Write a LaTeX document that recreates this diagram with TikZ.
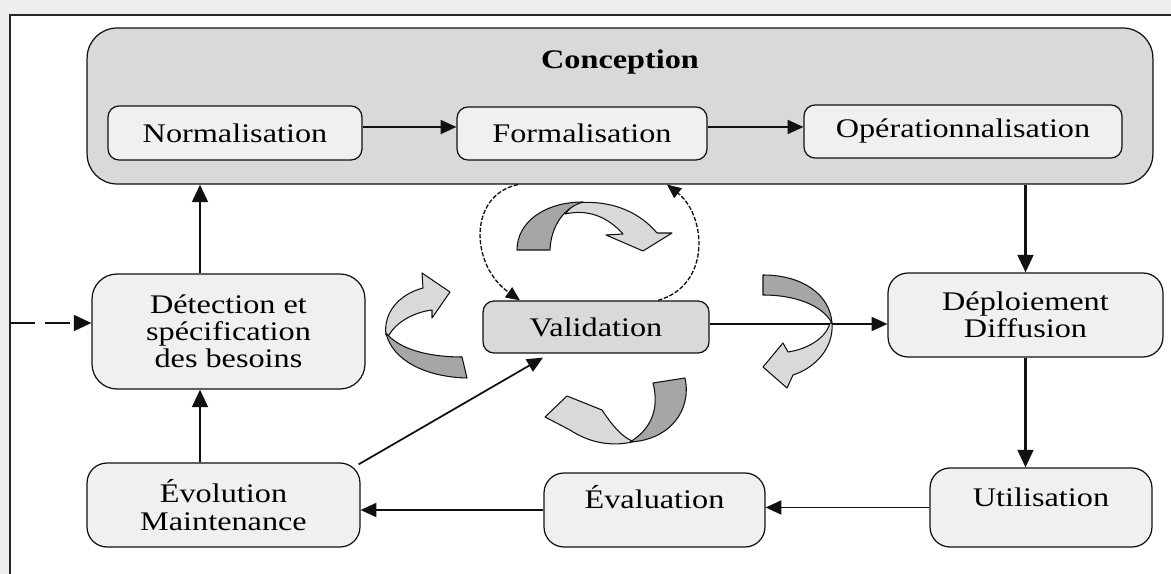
\documentclass[tikz,border=0pt]{standalone}
\usepackage{fontspec}
\setmainfont{Liberation Serif}[FakeStretch=1.2]
\usetikzlibrary{arrows.meta,calc}
\definecolor{boxlight}{HTML}{F0F0F0}
\definecolor{boxdark}{HTML}{D9D9D9}
\definecolor{ribdarkc}{HTML}{A6A6A6}
\definecolor{riblightc}{HTML}{D9D9D9}
\definecolor{pagegray}{HTML}{EEEEEE}
\definecolor{linec}{HTML}{111111}
\begin{document}
\begin{tikzpicture}[x=0.02cm,y=-0.02cm,
  every node/.style={font=\fontsize{15.3}{15.5}\selectfont},
  box/.style={draw=linec,line width=0.7pt,fill=boxlight,align=center,inner sep=0pt,rounded corners=0.22cm},
  topbox/.style={box,text height=11pt,text depth=12.3pt},
  arr/.style={-{Triangle[length=10pt,width=9pt]},line width=1.4pt,draw=linec},
  thinarr/.style={-{Triangle[length=9pt,width=8pt]},line width=1.0pt,draw=linec},
  loopline/.style={-{Triangle[length=8pt,width=7pt]},line width=0.75pt,draw=linec,dash pattern=on 2.5pt off 1pt},
  entryarr/.style={-{Triangle[length=10pt,width=9pt]},line width=1.3pt,draw=linec,dash pattern=on 14pt off 6pt},
  ribdark/.style={fill=ribdarkc,draw=linec,line width=0.6pt,line join=round},
  riblight/.style={fill=riblightc,draw=linec,line width=0.6pt,line join=round}]
\useasboundingbox (0,0) rectangle (1171,574);
% page and frame
\fill[pagegray] (0,0) rectangle (1171,574);
\fill[white] (10,15) rectangle (1171,574);
\draw[line width=1.2pt,draw=black!85] (10,574) -- (10,15) -- (1171,15);

% Conception group
\node[box,fill=boxdark,minimum width=21.32cm,minimum height=3.12cm,rounded corners=0.6cm] (conc) at (620,106) {};
\node[font=\fontsize{15.3}{15.5}\selectfont\bfseries] (conctitle) at (620,62) {Conception};
\node[box,minimum width=5.08cm,minimum height=1.08cm] (norm) at (235,133) {Normalisation};
\node[box,minimum width=5.0cm,minimum height=1.06cm] (form) at (582,133.5) {Formalisation};
\node[box,minimum width=6.36cm,minimum height=1.06cm] (oper) at (963,131.5) {Opérationnalisation};

% Other boxes
\node[box,minimum width=5.46cm,minimum height=2.3cm,rounded corners=0.5cm] (detect) at (228.5,331.5) {Détection et\\spécification\\des besoins};
\node[box,fill=boxdark,minimum width=4.52cm,minimum height=1.04cm] (valid) at (596,327) {Validation};
\node[box,minimum width=5.5cm,minimum height=1.68cm,rounded corners=0.4cm] (deploy) at (1025.5,315) {Déploiement\\Diffusion};
\node[topbox,minimum width=4.44cm,minimum height=1.58cm,rounded corners=0.4cm] (util) at (1041,507.5) {Utilisation};
\node[topbox,minimum width=4.42cm,minimum height=1.48cm,rounded corners=0.4cm] (eval) at (654.5,510) {Évaluation};
\node[box,minimum width=5.46cm,minimum height=1.68cm,rounded corners=0.4cm] (evol) at (223.5,505) {Évolution\\Maintenance};

% helper coordinates
\coordinate (colx) at (200,0);
\coordinate (entry) at (10,323);

% connectors
\draw[thinarr] ($(norm.east)+(0,-6)$) -- ($(form.west)+(0,-6.5)$);
\draw[thinarr] ($(form.east)+(0,-6.5)$) -- ($(oper.west)+(0,-4.5)$);
\draw[arr] (deploy.north |- conc.south) -- (deploy.north);
\draw[arr] (deploy.south) -- (deploy.south |- util.north);
\draw[thinarr] (util.west) -- (eval.east |- util.west);
\draw[thinarr] (eval.west) -- (evol.east |- eval.west);
\draw[arr] (evol.north -| colx) -- (detect.south -| colx);
\draw[arr] (detect.north -| colx) -- (conc.south -| colx);
\draw[entryarr] (entry) -- (entry -| detect.west);
\draw[thinarr] ($(valid.east)+(0,-3)$) -- ($(deploy.west |- valid.east)+(0,-3)$);
\draw[thinarr] ($(evol.north east)+(-2,2)$) -- ($(valid.south)+(-53,4)$);

% dashed loop between Conception and Validation
\draw[loopline] ($(conc.south)+(-102,0)$) .. controls (468,195) and (470,265) .. ($(valid.north)+(-76,0)$);
\draw[loopline] ($(valid.north)+(62,0)$) .. controls (712,285) and (706,215) .. ($(conc.south)+(47,0)$);

% curved block arrows around Validation
% top
\path[riblight] (575,203) .. controls (615,199) and (642,215) .. (657,233) -- (672,233) -- (643,251) -- (606,235) -- (623,234) .. controls (607,216) and (587,209) .. (565,214) -- cycle;
\path[ribdark] (517,250) .. controls (517,222) and (545,202) .. (583,202) .. controls (565,207) and (551,225) .. (550,250) -- cycle;
% right
\path[riblight] (832,323) .. controls (834,348) and (815,368) .. (793,375) -- (787,388) -- (763,367) -- (783,343) -- (788,352) .. controls (808,349) and (826,338) .. (830,323) -- cycle;
\path[ribdark] (763,275) .. controls (803,275) and (830,295) .. (832,323) .. controls (822,305) and (795,295) .. (763,295) -- cycle;
% bottom
\path[riblight] (632,442) .. controls (610,447) and (588,442) .. (570,430) -- (545,417) -- (567,396) -- (602,410) .. controls (612,425) and (621,436) .. (632,441) -- cycle;
\path[ribdark] (685,378) .. controls (692,410) and (670,440) .. (630,442) .. controls (650,430) and (660,410) .. (653,383) -- cycle;
% left
\path[riblight] (386,335) .. controls (383,312) and (400,294) .. (423,288) -- (422,273) -- (450,292) -- (432,318) -- (432,310) .. controls (415,312) and (395,322) .. (388,337) -- cycle;
\path[ribdark] (467,378) .. controls (425,377) and (392,360) .. (386,333) .. controls (400,350) and (430,357) .. (462,357) -- cycle;
\end{tikzpicture}
\end{document}
